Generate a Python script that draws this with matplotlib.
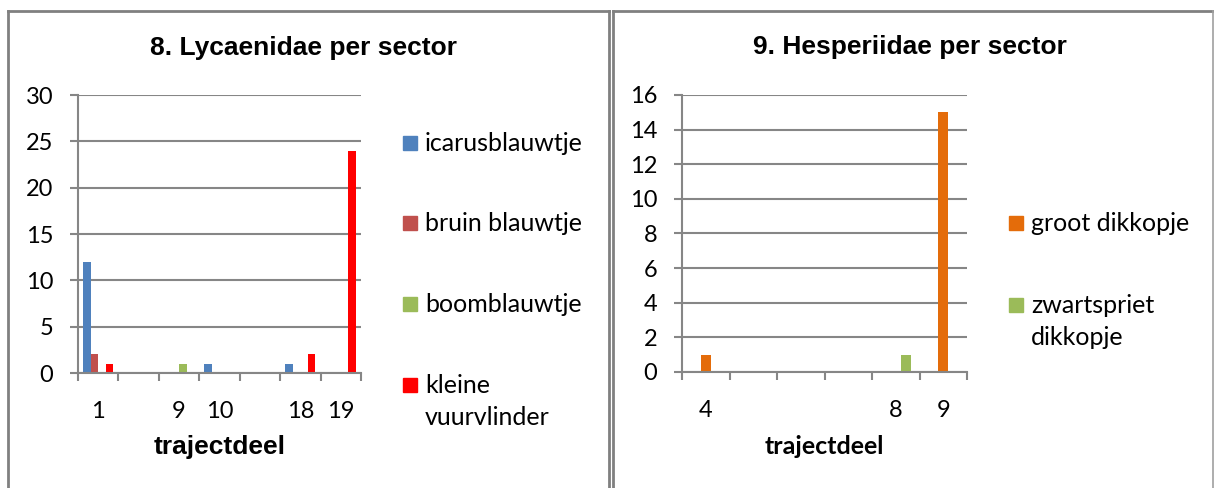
import numpy as np
import matplotlib
matplotlib.use('Agg')
import matplotlib.pyplot as plt
from matplotlib.lines import Line2D
from matplotlib.patches import Rectangle

# ── data ──────────────────────────────────────────────
lyc_sectors = ['1', '', '9', '10', '', '18', '19']
lyc_names = ['icarusblauwtje', 'bruin blauwtje', 'boomblauwtje', 'kleine\nvuurvlinder']
icarusblauwtje = [12, 0, 0, 1, 0, 1, 0]
bruin_blauwtje = [2, 0, 0, 0, 0, 0, 0]
boomblauwtje = [0, 0, 1, 0, 0, 0, 0]
kleine_vuurvlinder = [1, 0, 0, 0, 0, 2, 24]

hes_sectors = ['4', '', '', '', '8', '9']
hes_names = ['groot dikkopje', 'zwartspriet\ndikkopje']
groot_dikkopje = [1, 0, 0, 0, 0, 15]
zwartspriet_dikkopje = [0, 0, 0, 0, 1, 0]

C_BLUE, C_BROWN, C_GREEN, C_RED = '#4F81BD', '#C0504D', '#9BBB59', '#FF0000'
C_ORANGE = '#E46C0A'
GRID = '#868686'
BORDER = '#808080'

W, H = 1214, 488
fig = plt.figure(figsize=(W / 100, H / 100), dpi=100, facecolor='white')


def px_axes(x0, y_top, x1, y_bot):
    return fig.add_axes([x0 / W, 1 - y_bot / H, (x1 - x0) / W, (y_bot - y_top) / H])


def fig_line(xs, ys, color, lw):
    fig.add_artist(Line2D([x / W for x in xs], [1 - y / H for y in ys],
                          color=color, lw=lw, transform=fig.transFigure))


def style(ax, labels, ymax, ystep):
    n = len(labels)
    ax.set_xlim(-0.5, n - 0.5)
    ax.set_ylim(0, ymax)
    ax.set_yticks(np.arange(0, ymax + 0.1, ystep))
    ax.set_xticks(np.arange(n + 1) - 0.5)
    ax.set_xticklabels([])
    ax.set_xticks(np.arange(n), minor=True)
    ax.set_xticklabels(labels, minor=True)
    ax.tick_params(axis='both', which='major', length=5.8, width=1.5, color=GRID)
    ax.tick_params(axis='x', which='minor', length=0, pad=20)
    ax.tick_params(axis='y', pad=12)
    ax.tick_params(which='both', labelsize=17)
    for lab in ax.get_xticklabels(minor=True) + ax.get_yticklabels():
        lab.set_family('Lato')
    ax.yaxis.grid(True, color=GRID, lw=1.5)
    ax.set_axisbelow(True)
    for s in ['top', 'right']:
        ax.spines[s].set_visible(False)
    for s in ['left', 'bottom']:
        ax.spines[s].set_color(GRID)
        ax.spines[s].set_linewidth(1.5)


def legend(x, ys, names, colors):
    for y, name, c in zip(ys, names, colors):
        fig.add_artist(Rectangle((x / W, 1 - (y + 7) / H), 14 / W, 14 / H,
                                 color=c, transform=fig.transFigure))
        fig.text((x + 22) / W, 1 - (y - 11) / H, name, fontsize=18, family='Lato',
                 va='top', ha='left', linespacing=1.45)


# ── left: Lycaenidae ──────────────────────────────────
ax1 = px_axes(78, 95, 361, 373)
x = np.arange(len(lyc_sectors))
bw = 0.186
series = [icarusblauwtje, bruin_blauwtje, boomblauwtje, kleine_vuurvlinder]
cols = [C_BLUE, C_BROWN, C_GREEN, C_RED]
for i, (vals, c) in enumerate(zip(series, cols)):
    ax1.bar(x + (i - 1.5) * bw, vals, width=bw, color=c)
style(ax1, lyc_sectors, 30, 5)
ax1.set_xlabel('trajectdeel', fontsize=19, fontweight='bold', family='Liberation Sans', va='center')
ax1.xaxis.set_label_coords(0.5, (373 - 447) / (373 - 95))
fig.text(303 / W, 1 - 48 / H, '8. Lycaenidae per sector', fontsize=19, fontweight='bold',
         family='Liberation Sans', ha='center', va='center')
legend(403, [143, 223, 304, 385], lyc_names, cols)

# ── right: Hesperiidae ────────────────────────────────
ax2 = px_axes(682, 95, 967, 372)
x = np.arange(len(hes_sectors))
bw = 0.22
ax2.bar(x, groot_dikkopje, width=bw, color=C_ORANGE)
ax2.bar(x + bw, zwartspriet_dikkopje, width=bw, color=C_GREEN)
style(ax2, hes_sectors, 16, 2)
ax2.set_xlabel('trajectdeel', fontsize=18, fontweight='bold', family='Lato', va='center')
ax2.xaxis.set_label_coords(0.5, (372 - 447) / (372 - 95))
fig.text(910 / W, 1 - 47 / H, '9. Hesperiidae per sector', fontsize=19, fontweight='bold',
         family='Liberation Sans', ha='center', va='center')
legend(1009, [223, 305], hes_names, [C_ORANGE, C_GREEN])

# ── panel borders ─────────────────────────────────────
fig_line([8, 8], [11, H], BORDER, 2)
fig_line([8, 609], [11, 11], BORDER, 2)
fig_line([609, 609], [11, H], BORDER, 2)
fig_line([613, 613], [11, H], BORDER, 2)
fig_line([613, 1213], [11, 11], BORDER, 2)
fig_line([1213, 1213], [11, H], '#a0a0a0', 1.2)

fig.savefig('out.png', dpi=100, facecolor='white')
